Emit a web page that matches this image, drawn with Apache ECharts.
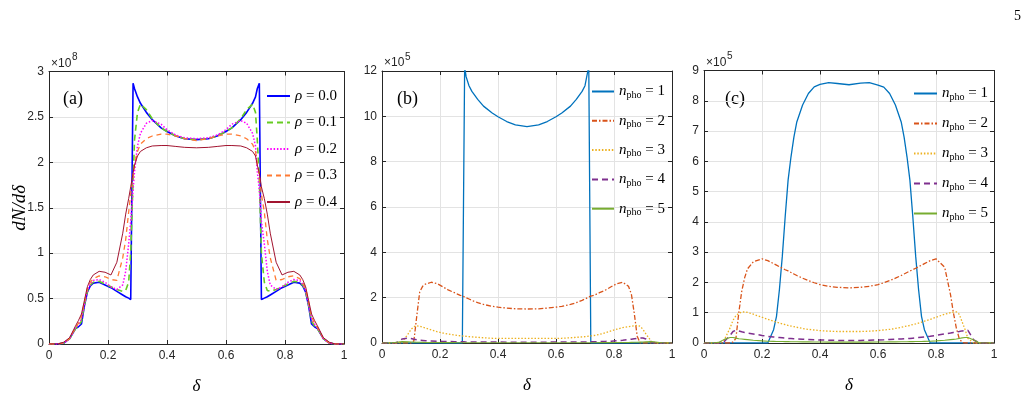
<!DOCTYPE html>
<html>
<head>
<meta charset="utf-8">
<script src="https://cdn.jsdelivr.net/npm/echarts@6/dist/echarts.min.js"></script>
<style>html,body{margin:0;padding:0;background:#fff;}#c{width:1029px;height:400px;}</style>
</head>
<body>
<div id="c"></div>
<script>
// ---------- DATA ----------
const xTicks = [0, 0.2, 0.4, 0.6, 0.8, 1];
// panel (a) and (b) share x samples
const xA = [0,0.03,0.05,0.07,0.09,0.1,0.11,0.12,0.13,0.14,0.15,0.17,0.19,0.21,0.23,0.25,0.26,0.27,0.277,0.285,0.29,0.3,0.31,0.33,0.35,0.38,0.4,0.43,0.46,
  0.5,
  0.54,0.57,0.6,0.62,0.65,0.67,0.69,0.7,0.706,0.713,0.72,0.73,0.74,0.75,0.77,0.79,0.81,0.83,0.85,0.86,0.87,0.88,0.89,0.9,0.91,0.93,0.95,0.97,1];
// panel (a): dN/dδ in units of 1e8
const rho00 = [0,0,0.01,0.06,0.17,0.19,0.22,0.42,0.57,0.64,0.67,0.68,0.65,0.62,0.58,0.54,0.52,0.505,0.49,2.87,2.81,2.72,2.65,2.55,2.47,2.38,2.34,2.29,2.26,
  2.25,
  2.26,2.29,2.34,2.38,2.47,2.55,2.65,2.72,2.81,2.87,0.49,0.505,0.52,0.54,0.58,0.62,0.65,0.68,0.67,0.64,0.57,0.42,0.22,0.19,0.17,0.06,0.01,0,0];
const rho01 = [0,0,0.01,0.06,0.17,0.2,0.25,0.43,0.58,0.65,0.68,0.69,0.66,0.63,0.6,0.58,0.59,0.68,1.0,1.8,2.25,2.55,2.64,2.58,2.48,2.38,2.34,2.29,2.26,
  2.25,
  2.26,2.29,2.34,2.38,2.48,2.58,2.64,2.55,2.25,1.8,1.0,0.68,0.59,0.58,0.6,0.63,0.66,0.69,0.68,0.65,0.58,0.43,0.25,0.2,0.17,0.06,0.01,0,0];
const rho02 = [0,0,0.01,0.06,0.18,0.22,0.28,0.44,0.59,0.66,0.7,0.71,0.68,0.63,0.6,0.65,0.8,1.1,1.35,1.7,1.9,2.18,2.32,2.43,2.46,2.42,2.36,2.3,2.27,
  2.26,
  2.27,2.3,2.36,2.42,2.46,2.43,2.32,2.18,1.9,1.7,1.35,1.1,0.8,0.65,0.6,0.63,0.68,0.71,0.7,0.66,0.59,0.44,0.28,0.22,0.18,0.06,0.01,0,0];
const rho03 = [0,0,0.01,0.06,0.18,0.23,0.3,0.46,0.61,0.68,0.72,0.75,0.74,0.71,0.7,0.95,1.15,1.45,1.65,1.86,1.98,2.12,2.2,2.26,2.29,2.31,2.31,2.29,2.26,
  2.24,
  2.26,2.29,2.31,2.31,2.29,2.26,2.2,2.12,1.98,1.86,1.65,1.45,1.15,0.95,0.7,0.71,0.74,0.75,0.72,0.68,0.61,0.46,0.3,0.23,0.18,0.06,0.01,0,0];
const rho04 = [0,0,0.02,0.07,0.2,0.26,0.33,0.48,0.63,0.71,0.76,0.8,0.79,0.76,0.9,1.22,1.43,1.6,1.73,1.88,1.97,2.07,2.12,2.16,2.18,2.185,2.185,2.175,2.165,
  2.16,
  2.165,2.175,2.185,2.185,2.18,2.16,2.12,2.07,1.97,1.88,1.73,1.6,1.43,1.22,0.9,0.76,0.79,0.8,0.76,0.71,0.63,0.48,0.33,0.26,0.2,0.07,0.02,0,0];
// panel (b): units of 1e5
const b1 = [0,0,0,0,0,0,0,0,0,0,0,0,0,0,0,0,0,0,0,12.2,11.75,11.35,11.1,10.75,10.45,10.15,9.98,9.77,9.62,
  9.55,
  9.62,9.77,9.98,10.15,10.45,10.75,11.1,11.35,11.75,12.2,0,0,0,0,0,0,0,0,0,0,0,0,0,0,0,0,0,0,0];
const b2 = [0,0,0,0,0,0,0.1,1.2,2.25,2.5,2.6,2.68,2.62,2.48,2.33,2.22,2.16,2.1,2.07,2.03,2.0,1.94,1.88,1.78,1.7,1.62,1.58,1.54,1.51,
  1.5,
  1.51,1.54,1.58,1.62,1.7,1.78,1.88,1.94,2.0,2.03,2.07,2.1,2.16,2.22,2.33,2.48,2.62,2.68,2.5,2.15,1.3,0.3,0,0,0,0,0,0,0];
const b3 = [0,0,0,0.05,0.4,0.6,0.72,0.76,0.74,0.7,0.66,0.58,0.5,0.44,0.39,0.35,0.33,0.32,0.31,0.3,0.29,0.28,0.27,0.25,0.23,0.21,0.2,0.2,0.2,
  0.2,
  0.2,0.2,0.2,0.21,0.23,0.25,0.27,0.28,0.29,0.3,0.31,0.33,0.35,0.38,0.45,0.53,0.61,0.68,0.72,0.74,0.76,0.78,0.74,0.6,0.4,0.05,0,0,0];
const b4 = [0,0,0.02,0.18,0.22,0.2,0.17,0.14,0.12,0.11,0.1,0.09,0.08,0.07,0.065,0.06,0.058,0.055,0.053,0.05,0.05,0.048,0.046,0.044,0.042,0.04,0.04,0.038,0.037,
  0.036,
  0.037,0.038,0.04,0.04,0.042,0.044,0.046,0.048,0.05,0.05,0.053,0.055,0.058,0.06,0.07,0.08,0.1,0.12,0.15,0.17,0.19,0.2,0.22,0.22,0.18,0.02,0,0,0];
const b5 = [0,0,0.03,0.06,0.05,0.045,0.04,0.035,0.03,0.028,0.025,0.022,0.02,0.018,0.016,0.015,0.014,0.013,0.013,0.012,0.012,0.011,0.011,0.01,0.01,0.01,0.01,0.01,0.01,
  0.01,
  0.01,0.01,0.01,0.01,0.01,0.01,0.011,0.011,0.012,0.012,0.013,0.013,0.014,0.015,0.016,0.018,0.02,0.022,0.025,0.028,0.03,0.035,0.04,0.045,0.05,0.06,0.03,0,0];
// panel (c): units of 1e5
const xC = [0,0.03,0.05,0.07,0.09,0.1,0.11,0.12,0.13,0.14,0.15,0.17,0.2,0.22,0.24,0.25,0.26,0.27,0.28,0.29,0.3,0.31,0.32,0.34,0.36,0.38,0.4,0.43,0.46,
  0.5,
  0.54,0.57,0.6,0.62,0.64,0.66,0.68,0.69,0.7,0.71,0.72,0.73,0.74,0.75,0.76,0.78,0.8,0.83,0.85,0.86,0.87,0.88,0.89,0.9,0.91,0.93,0.95,0.97,1];
const c1 = [0,0,0,0,0,0,0,0,0,0,0,0,0,0,0.44,0.88,1.76,2.86,4.18,5.38,6.15,6.8,7.3,7.86,8.24,8.46,8.54,8.6,8.57,
  8.53,
  8.58,8.6,8.52,8.45,8.24,7.86,7.3,6.8,6.15,5.38,4.18,2.86,1.76,0.88,0.44,0,0,0,0,0,0,0,0,0,0,0,0,0,0];
const c2 = [0,0,0,0,0,0.03,0.15,1.0,1.7,2.15,2.45,2.68,2.78,2.72,2.62,2.57,2.52,2.47,2.42,2.38,2.33,2.28,2.23,2.14,2.06,1.99,1.93,1.87,1.84,
  1.82,
  1.84,1.87,1.93,1.99,2.06,2.14,2.23,2.28,2.33,2.38,2.42,2.47,2.52,2.57,2.62,2.72,2.78,2.5,1.6,1.0,0.5,0.15,0.02,0,0,0,0,0,0];
const c3 = [0,0,0,0.1,0.5,0.75,0.9,0.98,1.02,1.03,1.01,0.95,0.85,0.78,0.72,0.69,0.66,0.63,0.61,0.58,0.56,0.54,0.52,0.48,0.45,0.43,0.41,0.39,0.38,
  0.38,
  0.38,0.39,0.41,0.43,0.45,0.48,0.52,0.54,0.56,0.58,0.61,0.63,0.66,0.69,0.72,0.78,0.85,0.95,1.0,1.02,1.03,0.95,0.7,0.45,0.15,0,0,0,0];
const c4 = [0,0,0,0.05,0.25,0.38,0.42,0.4,0.37,0.35,0.33,0.3,0.25,0.22,0.2,0.19,0.18,0.17,0.16,0.15,0.145,0.14,0.135,0.125,0.115,0.105,0.1,0.09,0.085,
  0.08,
  0.085,0.09,0.1,0.105,0.115,0.125,0.135,0.14,0.145,0.15,0.16,0.17,0.18,0.19,0.2,0.22,0.25,0.3,0.33,0.35,0.37,0.38,0.4,0.41,0.42,0.1,0,0,0];
const c5 = [0,0,0.02,0.12,0.18,0.18,0.16,0.14,0.13,0.12,0.11,0.09,0.07,0.06,0.055,0.05,0.05,0.048,0.046,0.044,0.042,0.04,0.04,0.038,0.036,0.034,0.032,0.03,0.03,
  0.03,
  0.03,0.03,0.032,0.034,0.036,0.038,0.04,0.04,0.042,0.044,0.046,0.048,0.05,0.05,0.055,0.06,0.07,0.09,0.11,0.12,0.13,0.15,0.17,0.18,0.18,0.1,0,0,0];

const rhoLabels = ['0.0','0.1','0.2','0.3','0.4'];
const nphoLabels = ['1','2','3','4','5'];
const panelLabels = ['(a)','(b)','(c)'];
const exponents = ['8','5','5'];
const yMax = [3, 12, 9];
const yStep = [0.5, 2, 1];

// ---------- STYLE ----------
const AX = '#262626';
const GRIDC = '#E3E3E3';
const SANS = 'Liberation Sans, Arial, Helvetica, sans-serif';
const SERIF = 'Liberation Serif, DejaVu Serif, serif';
const grids = [
  {left: 49, top: 71.5, width: 295, height: 272.5},
  {left: 382, top: 71, width: 290, height: 272},
  {left: 704, top: 70.5, width: 290, height: 272.5}
];
const pair = (xs, ys) => xs.map((x, i) => [x, ys[i]]);

const xAxes = [], yAxes = [];
grids.forEach((g, i) => {
  xAxes.push({
    type: 'value', gridIndex: i, min: 0, max: 1, interval: 0.2, position: 'bottom',
    axisLine: {show: true, lineStyle: {color: AX, width: 1}},
    axisTick: {show: true, inside: true, length: 4, lineStyle: {color: AX}},
    axisLabel: {color: AX, fontFamily: SANS, fontSize: 12, margin: 6},
    splitLine: {show: true, lineStyle: {color: GRIDC, width: 1}},
    name: 'δ', nameLocation: 'middle', nameGap: 34, nameMoveOverlap: false,
    nameTextStyle: {fontFamily: SERIF, fontStyle: 'italic', fontSize: 17, color: '#000'}
  });
  yAxes.push({
    type: 'value', gridIndex: i, min: 0, max: yMax[i], interval: yStep[i], position: 'left',
    axisLine: {show: true, lineStyle: {color: AX, width: 1}},
    axisTick: {show: true, inside: true, length: 4, lineStyle: {color: AX}},
    axisLabel: {color: AX, fontFamily: SANS, fontSize: 12, margin: 5},
    splitLine: {show: true, lineStyle: {color: GRIDC, width: 1}},
    name: i === 0 ? 'dN/dδ' : '', nameLocation: 'middle', nameGap: 20, nameRotate: 90, nameMoveOverlap: false,
    nameTextStyle: {fontFamily: SERIF, fontStyle: 'italic', fontSize: 19, color: '#000'}
  });
});
grids.forEach((g, i) => {
  xAxes.push({
    type: 'value', gridIndex: i, min: 0, max: 1, interval: 0.2, position: 'top',
    axisLine: {show: true, onZero: false, lineStyle: {color: AX, width: 1}},
    axisTick: {show: true, inside: true, length: 4, lineStyle: {color: AX}},
    axisLabel: {show: false}, splitLine: {show: false}
  });
  yAxes.push({
    type: 'value', gridIndex: i, min: 0, max: yMax[i], interval: yStep[i], position: 'right',
    axisLine: {show: true, onZero: false, lineStyle: {color: AX, width: 1}},
    axisTick: {show: true, inside: true, length: 4, lineStyle: {color: AX}},
    axisLabel: {show: false}, splitLine: {show: false}
  });
});

function mkSeries(name, gi, xs, ys, color, width, type) {
  return {
    name, type: 'line', xAxisIndex: gi, yAxisIndex: gi, data: pair(xs, ys),
    showSymbol: false, symbol: 'none', animation: false, z: 3,
    lineStyle: {color, width, type}, itemStyle: {color}
  };
}
const styleA = [
  ['#0000FF', 1.6, 'solid'],
  ['#66CC22', 1.6, [6, 4]],
  ['#FF00FF', 1.5, [1.5, 1.8]],
  ['#FF7A33', 1.3, [5, 4]],
  ['#A2142F', 1.0, 'solid']
];
const styleB = [
  ['#0072BD', 1.3, 'solid'],
  ['#D95319', 1.3, [5, 2, 1.5, 2]],
  ['#EDB120', 1.3, [1.5, 1.8]],
  ['#7E2F8E', 1.5, [6, 4]],
  ['#77AC30', 1.1, 'solid']
];
const dataA = [rho00, rho01, rho02, rho03, rho04];
const dataB = [b1, b2, b3, b4, b5];
const dataC = [c1, c2, c3, c4, c5];

const series = [];
const nameA = [], nameB = [], nameC = [];
const labelMap = {};
dataA.forEach((d, k) => { const n = 'a' + k; nameA.push(n); labelMap[n] = '{i|ρ} = ' + rhoLabels[k];
  series.push(mkSeries(n, 0, xA, d, ...styleA[k])); });
dataB.forEach((d, k) => { const n = 'b' + k; nameB.push(n); labelMap[n] = '{i|n}{s|pho} = ' + nphoLabels[k];
  series.push(mkSeries(n, 1, xA, d, ...styleB[k])); });
dataC.forEach((d, k) => { const n = 'c' + k; nameC.push(n); labelMap[n] = '{i|n}{s|pho} = ' + nphoLabels[k];
  series.push(mkSeries(n, 2, xC, d, ...styleB[k])); });

const rich = {
  i: {fontFamily: SERIF, fontStyle: 'italic', fontSize: 15, color: '#000', lineHeight: 16},
  s: {fontFamily: SERIF, fontSize: 10, color: '#000', lineHeight: 16, padding: [7, 0, 0, 0]}
};
function mkLegend(data, left, top, width, gap) {
  return {
    data, left, top, orient: 'vertical', itemWidth: width, itemHeight: 10, itemGap: gap,
    padding: 0, selectedMode: false, backgroundColor: 'transparent',
    itemStyle: {opacity: 0, borderWidth: 0},
    formatter: n => labelMap[n],
    textStyle: {fontFamily: SERIF, fontSize: 15, color: '#000', lineHeight: 16, rich}
  };
}

const graphics = [];
grids.forEach((g, i) => {
  graphics.push({type: 'text', left: g.left + 2, top: g.top - 14,
    style: {text: '×10', fontFamily: SANS, fontSize: 12, fill: AX}});
  graphics.push({type: 'text', left: g.left + 23, top: g.top - 19,
    style: {text: exponents[i], fontFamily: SANS, fontSize: 10, fill: AX}});
});
graphics.push({type: 'text', left: 63, top: 90, style: {text: panelLabels[0], fontFamily: SERIF, fontSize: 18, fill: '#000'}});
graphics.push({type: 'text', left: 397, top: 90, style: {text: panelLabels[1], fontFamily: SERIF, fontSize: 18, fill: '#000'}});
graphics.push({type: 'text', left: 725, top: 90, style: {text: panelLabels[2], fontFamily: SERIF, fontSize: 18, fill: '#000'}});
graphics.push({type: 'text', right: 8, top: 9, style: {text: '5', fontFamily: SERIF, fontSize: 14, fill: '#000'}});

const chart = echarts.init(document.getElementById('c'), null, {renderer: 'canvas'});
chart.setOption({
  backgroundColor: '#fff',
  animation: false,
  grid: grids.map(g => Object.assign({containLabel: false}, g)),
  xAxis: xAxes,
  yAxis: yAxes,
  legend: [
    mkLegend(nameA, 266, 88, 23, 10.5),
    mkLegend(nameB, 591, 83, 22, 12.3),
    mkLegend(nameC, 913, 85, 23, 13)
  ],
  graphic: graphics,
  series
});
</script>
</body>
</html>
